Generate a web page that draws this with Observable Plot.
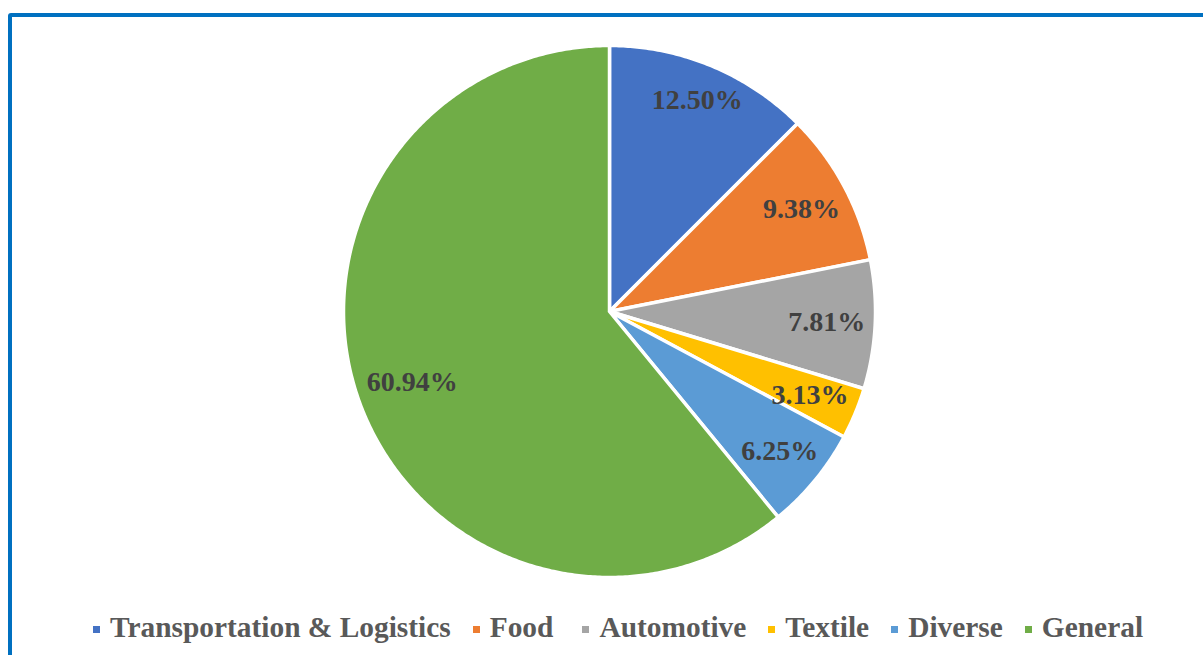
<!DOCTYPE html>
<html>
<head>
<meta charset="utf-8">
<script src="https://cdn.jsdelivr.net/npm/d3@7"></script>
<script src="https://cdn.jsdelivr.net/npm/@observablehq/plot@0.6"></script>
<style>
  html, body { margin: 0; padding: 0; background: #fff; }
  body { width: 1203px; height: 655px; overflow: hidden; position: relative; }
  #frame { position: absolute; left: 8px; top: 13px; width: 1400px; height: 900px;
           border: 4px solid #0070C0; border-radius: 3px; box-sizing: border-box; }
  #chart { position: absolute; left: 0; top: 0; }
  #legend { position: absolute; left: 93px; top: 613px; display: flex; align-items: center;
            font-family: "Liberation Serif", "Times New Roman", serif; font-weight: bold;
            font-size: 29.4px; line-height: 29px; color: #595959; white-space: nowrap; }
  .item { display: flex; align-items: center; margin-right: 22px; }
  .sw { width: 7px; height: 7px; margin-right: 10px; margin-top: 4px; }
</style>
</head>
<body>
<div id="frame"></div>
<div id="chart"></div>
<div id="legend"></div>
<script>
const categories = ["Transportation & Logistics", "Food", "Automotive", "Textile", "Diverse", "General"];
const shares = [12.50, 9.38, 7.81, 3.13, 6.25, 60.94];
const colors = ["#4472C4", "#ED7D31", "#A5A5A5", "#FFC000", "#5B9BD5", "#70AD47"];

const R = 266;          // pie radius in pixels
const labelFont = 28;
const total = d3.sum(shares);
const slices = [];
const labels = [];
let cum = 0;
categories.forEach((name, i) => {
  const a0 = cum / total * 2 * Math.PI;
  cum += shares[i];
  const a1 = cum / total * 2 * Math.PI;
  const n = Math.max(2, Math.ceil((a1 - a0) / (Math.PI / 360)));
  slices.push({name, x: 0, y: 0});
  for (let k = 0; k <= n; k++) {
    const a = a0 + (a1 - a0) * k / n;
    slices.push({name, x: Math.sin(a), y: Math.cos(a)});
  }
  slices.push({name, x: 0, y: 0});
  const mid = (a0 + a1) / 2;
  const text = shares[i].toFixed(2) + "%";
  // "best fit": keep the label box inside the slice, near its outer edge
  const hw = text.length * labelFont * 0.545 / 2, hh = 10;
  const d = (256 - (Math.abs(Math.sin(mid)) * hw + Math.abs(Math.cos(mid)) * hh)) / R;
  labels.push({name, x: d * Math.sin(mid), y: d * Math.cos(mid), text});
});

const cx = 609, cy = 311;
const chart = Plot.plot({
  width: 1203,
  height: 600,
  margin: 0,
  x: {domain: [-1, 1], range: [cx - R, cx + R], axis: null},
  y: {domain: [-1, 1], range: [cy + R, cy - R], axis: null},
  color: {domain: categories, range: colors},
  marks: [
    Plot.line(slices, {x: "x", y: "y", z: "name", fill: "name", stroke: "white", strokeWidth: 3.5, curve: "linear"}),
    Plot.text(labels, {x: "x", y: "y", text: "text", fill: "#404040", fontSize: labelFont, fontWeight: "bold",
      fontFamily: "'Liberation Serif', 'Times New Roman', serif"})
  ]
});
document.getElementById("chart").appendChild(chart);

const legend = document.getElementById("legend");
categories.forEach((name, i) => {
  const item = document.createElement("div");
  item.className = "item";
  if (name === "Food") item.style.marginRight = "29px";
  const sw = document.createElement("div");
  sw.className = "sw";
  sw.style.background = colors[i];
  const t = document.createElement("span");
  t.textContent = name;
  item.appendChild(sw);
  item.appendChild(t);
  legend.appendChild(item);
});
</script>
</body>
</html>
